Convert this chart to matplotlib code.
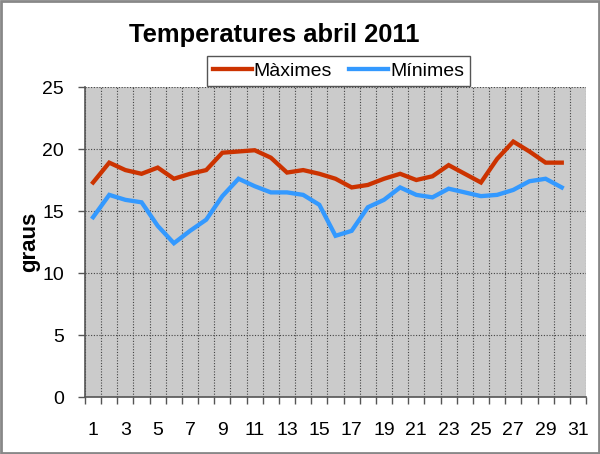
import matplotlib
matplotlib.use("Agg")
import matplotlib.pyplot as plt
from matplotlib.patches import Rectangle
import numpy as np

days = list(range(1, 31))
maximes = [17.3, 18.9, 18.3, 18.0, 18.5, 17.6, 18.0, 18.3, 19.7, 19.8,
           19.9, 19.3, 18.1, 18.3, 18.0, 17.6, 16.9, 17.1, 17.6, 18.0,
           17.5, 17.8, 18.7, 18.0, 17.3, 19.2, 20.6, 19.8, 18.9, 18.9]
minimes = [14.5, 16.3, 15.9, 15.7, 13.8, 12.4, 13.4, 14.3, 16.2, 17.6,
           17.0, 16.5, 16.5, 16.3, 15.5, 13.0, 13.4, 15.3, 15.9, 16.9,
           16.3, 16.1, 16.8, 16.5, 16.2, 16.3, 16.7, 17.4, 17.6, 16.9]
xtick_labels = [str(d) for d in range(1, 32, 2)]
yticks = [0, 5, 10, 15, 20, 25]

plt.rcParams['font.family'] = ['Liberation Sans', 'DejaVu Sans']

fig = plt.figure(figsize=(6.0, 4.54), dpi=100)
ax = fig.add_axes([85/600, 1-397/454, (586-85)/600, (397-87)/454])
ax.set_facecolor('#CBCBCB')

ax.plot(days, maximes, color='#CC3300', lw=3.1, solid_joinstyle='miter', label='Màximes', zorder=3)
ax.plot(days, minimes, color='#3399FF', lw=3.1, solid_joinstyle='miter', label='Mínimes', zorder=3)

ax.set_xlim(0.5, 31.5)
ax.set_ylim(0, 25)
ax.set_yticks(yticks)
ax.set_yticklabels([str(v) for v in yticks], fontsize=14)
ax.set_xticks(list(range(1, 32, 2)))
ax.set_xticklabels(xtick_labels, fontsize=14)
ax.set_xticks(np.arange(0.5, 32, 1.0), minor=True)
ax.tick_params(axis='x', which='major', length=0, pad=18)
ax.tick_params(axis='x', which='minor', length=5, width=1, color='#555555', direction='out')
ax.tick_params(axis='y', which='major', length=5, width=1, color='#555555', direction='out', pad=10)

ax.grid(True, axis='x', which='minor', color='#444444', linestyle=(0, (1, 1.5)), lw=0.8)
ax.grid(True, axis='y', which='major', color='#444444', linestyle=(0, (1, 1.5)), lw=0.8)
ax.set_axisbelow(True)

for s in ['top', 'right']:
    ax.spines[s].set_visible(False)
for s in ['left', 'bottom']:
    ax.spines[s].set_color('#555555')
    ax.spines[s].set_linewidth(1.2)

ax.set_ylabel('graus', fontsize=16, fontweight='bold', labelpad=2)

fig.text(274/600, 1-35/454, 'Temperatures abril 2011', ha='center', va='center',
         fontsize=18.4, fontweight='bold')

leg = ax.legend(loc='center', bbox_to_anchor=(338.5/600, 1-71/454),
                bbox_transform=fig.transFigure, ncol=2, frameon=True,
                fancybox=False, fontsize=14, handlelength=2.0, handletextpad=0.1,
                columnspacing=0.9, borderaxespad=0, borderpad=0.3)
leg.get_frame().set_edgecolor('#555555')
leg.get_frame().set_linewidth(1.0)
leg.get_frame().set_facecolor('white')
leg.get_frame().set_alpha(1)

fig.patches.append(Rectangle((0.002, 0.003), 0.996, 0.994, transform=fig.transFigure,
                             fill=False, edgecolor='#888888', lw=2))

fig.savefig('out.png', dpi=100, facecolor='white')
